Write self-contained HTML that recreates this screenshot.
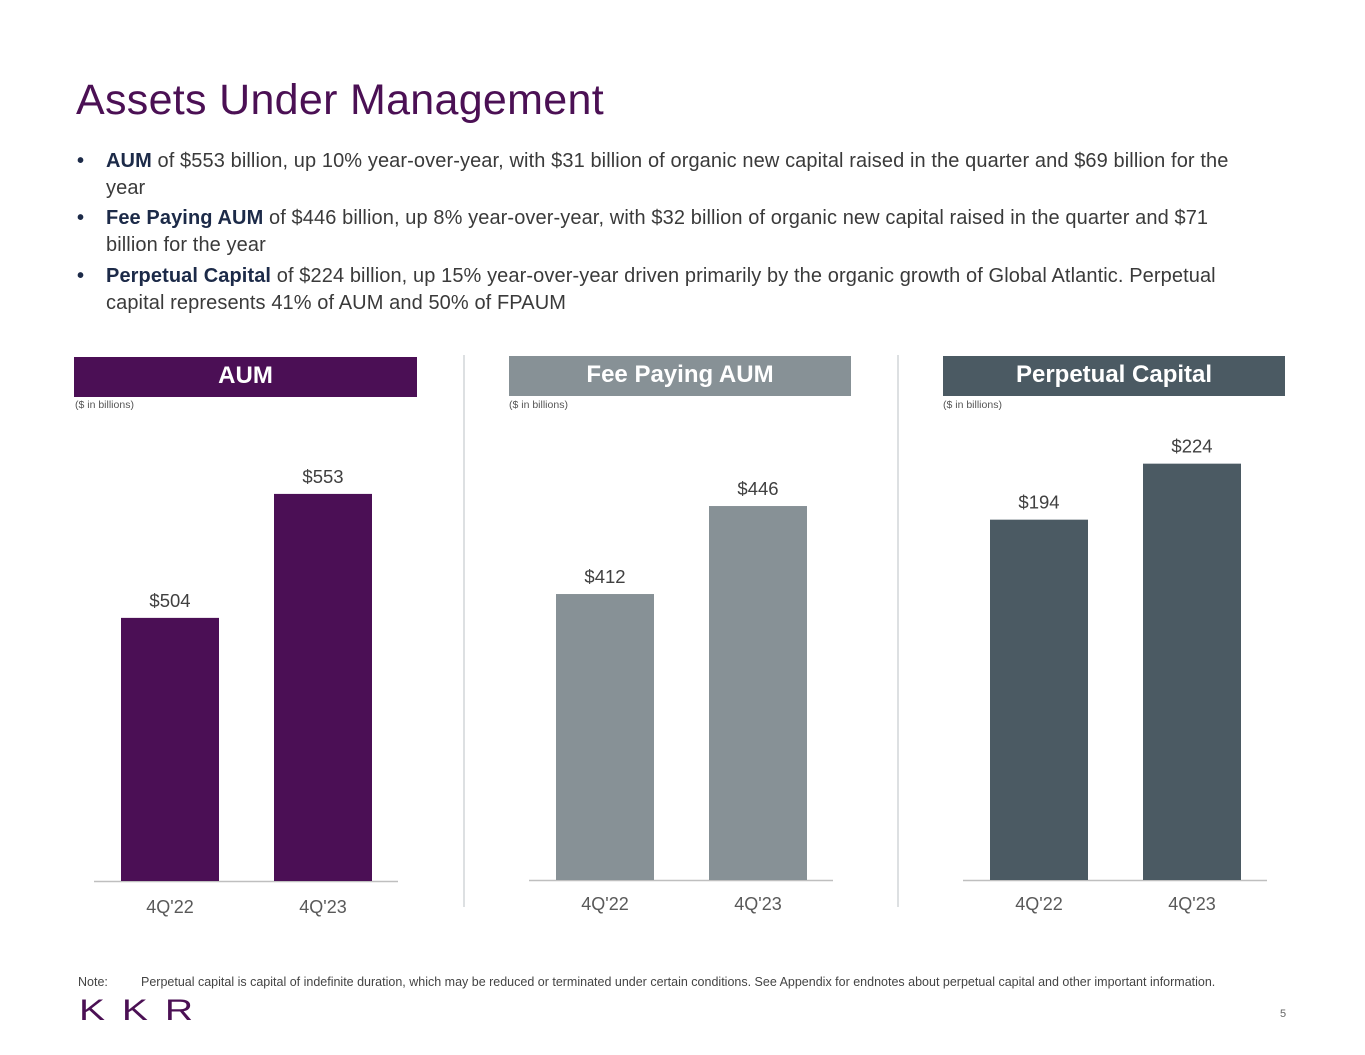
<!DOCTYPE html>
<html><head><meta charset="utf-8">
<style>
body{margin:0;width:1365px;height:1055px;background:#fff;font-family:"Liberation Sans",sans-serif;position:relative;overflow:hidden;color:#404040}
.abs{position:absolute}
h1{position:absolute;left:76px;top:76px;margin:0;font-weight:normal;font-size:43px;color:#4b1054;letter-spacing:0.3px}
.b{position:absolute;left:106px;font-size:20px;white-space:nowrap;color:#3a3a3a;letter-spacing:0.1px}
.b strong{color:#1c2a48}
.dot{position:absolute;left:77px;font-size:20px;color:#1c2a48;font-weight:bold}
.hdr{position:absolute;height:40px;color:#fff;font-weight:bold;font-size:24px;text-align:center;line-height:38px}
.unit{position:absolute;font-size:10.5px;color:#555}
.div{position:absolute;width:2px;background:#dde0e2;top:355px;height:552px}
</style></head><body>
<h1>Assets Under Management</h1>
<div class="dot" style="top:150px">•</div>
<div class="b" style="top:150px"><strong>AUM</strong> of $553 billion, up 10% year-over-year, with $31 billion of organic new capital raised in the quarter and $69 billion for the</div>
<div class="b" style="top:177px">year</div>
<div class="dot" style="top:207px">•</div>
<div class="b" style="top:207px"><strong>Fee Paying AUM</strong> of $446 billion, up 8% year-over-year, with $32 billion of organic new capital raised in the quarter and $71</div>
<div class="b" style="top:234px">billion for the year</div>
<div class="dot" style="top:265px">•</div>
<div class="b" style="top:265px"><strong>Perpetual Capital</strong> of $224 billion, up 15% year-over-year driven primarily by the organic growth of Global Atlantic. Perpetual</div>
<div class="b" style="top:292px">capital represents 41% of AUM and 50% of FPAUM</div>

<div class="hdr" style="left:74px;top:357px;width:343px;background:#4b0f55">AUM</div>
<div class="hdr" style="left:509px;top:356px;width:342px;background:#879196">Fee Paying AUM</div>
<div class="hdr" style="left:943px;top:356px;width:342px;background:#4b5a63">Perpetual Capital</div>
<div class="unit" style="left:75px;top:399px">($ in billions)</div>
<div class="unit" style="left:509px;top:399px">($ in billions)</div>
<div class="unit" style="left:943px;top:399px">($ in billions)</div>
<div class="div" style="left:463px"></div>
<div class="div" style="left:897px"></div>

<svg id="charts" class="abs" style="left:0;top:0" width="1365" height="1055"></svg>

<div class="abs" style="left:78px;top:975px;font-size:12.5px;color:#444;white-space:nowrap">Note:<span style="position:absolute;left:63px">Perpetual capital is capital of indefinite duration, which may be reduced or terminated under certain conditions. See Appendix for endnotes about perpetual capital and other important information.</span></div>
<div class="abs" style="left:79px;top:994px;font-size:30px;color:#4b1054;letter-spacing:13px;font-weight:normal;transform:scaleX(1.3);transform-origin:left">KKR</div>
<div class="abs" style="left:1280px;top:1008px;font-size:11px;color:#666">5</div>

<script>
const categories=["4Q'22","4Q'23"];
const aumValues=[504,553];
const fpaumValues=[412,446];
const perpValues=[194,224];
const aumLabels=["$504","$553"];
const fpaumLabels=["$412","$446"];
const perpLabels=["$194","$224"];
const NS="http://www.w3.org/2000/svg";
const svg=document.getElementById('charts');
function mk(t,a){const e=document.createElementNS(NS,t);for(const k in a)e.setAttribute(k,a[k]);svg.appendChild(e);return e;}
function chart(name,vals,labels,x0,base,yMin,ppu,color,catY){
  const y=v=>base-(v-yMin)*ppu;
  const ax=mk('line',{x1:x0,x2:x0+304,y1:base+0.5,y2:base+0.5,stroke:'#bfbfbf','stroke-width':1.5});
  
  
  vals.forEach((v,i)=>{
    const bx=x0+27+i*153;
    const r=mk('rect',{x:bx,y:y(v),width:98,height:base-y(v),fill:color});
    
    
    const t=mk('text',{x:bx+49,y:y(v)-11,'text-anchor':'middle','font-size':18.5,fill:'#404040','font-family':'Liberation Sans'});
    t.textContent=labels[i];
    
    
    const c=mk('text',{x:bx+49,y:catY,'text-anchor':'middle','font-size':18,fill:'#595959','font-family':'Liberation Sans'});
    c.textContent=categories[i];
    
    
  });
}
chart('aum',aumValues,aumLabels,94,881,400,2.53,'#4b0f55',913);
chart('fpaum',fpaumValues,fpaumLabels,529,880,301.5,2.588,'#879196',910);
chart('perpetual',perpValues,perpLabels,963,880,1,1.867,'#4b5a63',910);
</script>
</body></html>
